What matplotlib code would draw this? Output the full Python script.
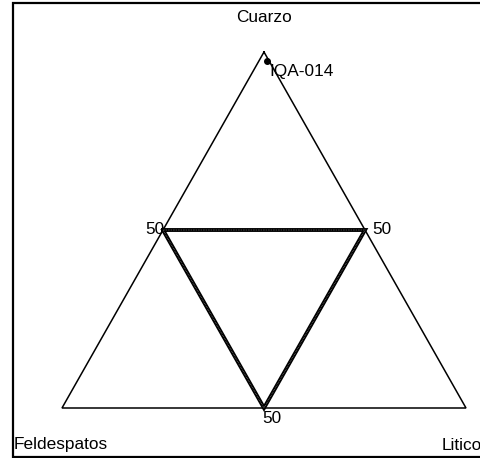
import matplotlib
matplotlib.use("Agg")
import matplotlib.pyplot as plt
from matplotlib.lines import Line2D

plt.rcParams['font.family'] = ['Liberation Sans', 'DejaVu Sans']

# Vertex names of the QFL diagram
apex_labels = ["Cuarzo", "Feldespatos", "Litico"]

# Sample composition (percent): Q, F, L
samples = ["IQA-014"]
quartz = [97.5]
feldspar = [0.5]
lithic = [2.0]

# Mid-edge tick value
mid_value = 50

FS = 12.4
W, H = 481, 458
fig = plt.figure(figsize=(W / 100, H / 100), dpi=100)
ax = fig.add_axes([0, 0, 1, 1])

# pixel geometry of the triangle (base left, base width, base y, height)
x0, bw, yb, th = 62.0, 404.0, 408.0, 356.0
ax.set_xlim(-x0 / bw, (W - x0) / bw)
ax.set_ylim((yb - H) / th, yb / th)
ax.axis("off")


def to_xy(q, f, l):
    s = q + f + l
    q, f, l = q / s, f / s, l / s
    return l + q / 2.0, q


# outer triangle
corners = [(100, 0, 0), (0, 100, 0), (0, 0, 100), (100, 0, 0)]
xs, ys = zip(*[to_xy(*c) for c in corners])
ax.plot(xs, ys, color="black", lw=1.1, solid_joinstyle="miter")

# inner triangle joining the 50 % points
m = mid_value
mids = [(m, 100 - m, 0), (m, 0, 100 - m), (0, 100 - m, m), (m, 100 - m, 0)]
mx, my = zip(*[to_xy(*c) for c in mids])
ax.plot(mx, my, color="black", lw=2.8, solid_joinstyle="miter")
ax.plot(mx, my, color="#aaaaaa", lw=0.6, ls=(0, (0.6, 1.4)))

# mid-edge labels
lx, ly = to_xy(m, 100 - m, 0)
ax.text(lx + 0.003, ly, str(m), ha="right", va="center", fontsize=FS)
rx, ry = to_xy(m, 0, 100 - m)
ax.text(rx + 0.017, ry, str(m), ha="left", va="center", fontsize=FS)
bx, by = to_xy(0, 100 - m, m)
ax.text(bx + 0.02, by - 0.008, str(m), ha="center", va="top", fontsize=FS)

# vertex labels
fig.text(264 / W, 1 - 18 / H, apex_labels[0], ha="center", va="center", fontsize=FS)
fig.text(14 / W, 1 - 445 / H, apex_labels[1], ha="left", va="center", fontsize=FS)
fig.text(482 / W, 1 - 445 / H, apex_labels[2], ha="right", va="center", fontsize=FS)

# sample points
for name, q, f, l in zip(samples, quartz, feldspar, lithic):
    px, py = to_xy(q, f, l)
    ax.plot([px], [py], "o", color="black", ms=4)
    ax.text(px + 0.006, py - 0.03, name, ha="left", va="center", fontsize=FS)

# frame: top, left and bottom sides (right side runs off the canvas)
fx = [1.1, 12.5 / W, 12.5 / W, 1.1]
fy = [1 - 3 / H, 1 - 3 / H, 1 - 457 / H, 1 - 457 / H]
fig.add_artist(Line2D(fx, fy, transform=fig.transFigure, color="black",
                      lw=1.6, solid_joinstyle="miter"))

fig.savefig("out.png", dpi=100)
